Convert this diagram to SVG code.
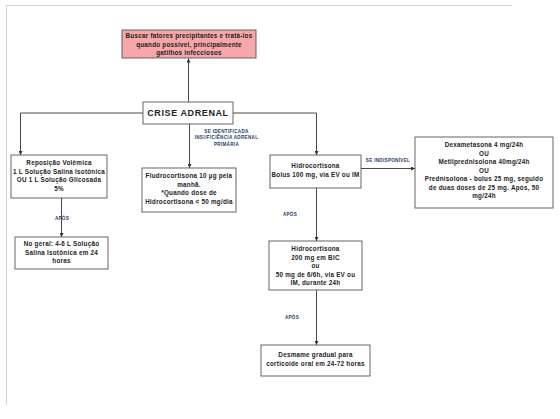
<svg xmlns="http://www.w3.org/2000/svg" width="560" height="419" viewBox="0 0 560 419">
<defs>
<marker id="ah" viewBox="0 0 6 6" refX="6" refY="3" markerWidth="4" markerHeight="4" orient="auto" markerUnits="userSpaceOnUse">
<path d="M0,0 L6,3 L0,6 z" fill="#333"/>
</marker>
<style>
.box{fill:#fff;stroke:#555;stroke-width:0.9}
.red{fill:#f7a7a7;stroke:#555;stroke-width:0.9}
.t{font-family:"Liberation Sans",Arial,sans-serif;font-weight:bold;font-size:6.3px;fill:#222;text-anchor:middle;letter-spacing:0.25px}
.big{font-size:9px;letter-spacing:0.6px}
.lb{font-family:"Liberation Sans",Arial,sans-serif;font-weight:bold;font-size:4.6px;fill:#1f3a6e;text-anchor:middle;letter-spacing:0.3px}
.c{fill:none;stroke:#333;stroke-width:0.9}
.frame{fill:none;stroke:#d4d4d4;stroke-width:1}
</style>
</defs>
<rect width="560" height="419" fill="#fff"/>
<path class="frame" d="M512,5.5 H6.5 V405"/>
<g id="connectors">
<path class="c" d="M188.5,102 V58.5" marker-end="url(#ah)"/>
<path class="c" d="M143,113 H20.5 V155" marker-end="url(#ah)"/>
<path class="c" d="M233,113 H316.5 V155" marker-end="url(#ah)"/>
<path class="c" d="M189.5,124 V168" marker-end="url(#ah)"/>
<path class="c" d="M61.5,198 V237" marker-end="url(#ah)"/>
<path class="c" d="M361,168.5 H415" marker-end="url(#ah)"/>
<path class="c" d="M316.5,188 V241" marker-end="url(#ah)"/>
<path class="c" d="M316.5,290 V345" marker-end="url(#ah)"/>
<text class="lb" x="226.5" y="132.5">SE IDENTIFICADA</text>
<text class="lb" x="226.5" y="139">INSUFICIÊNCIA ADRENAL</text>
<text class="lb" x="226.5" y="145.5">PRIMÁRIA</text>
<text class="lb" x="62" y="219.5">APÓS</text>
<text class="lb" x="388" y="162">SE INDISPONÍVEL</text>
<text class="lb" x="290" y="216">APÓS</text>
<text class="lb" x="292" y="319">APÓS</text>
</g>
<g id="n-buscar">
<rect class="red" x="122" y="30" width="134" height="28"/>
<text class="t" x="189" y="38">Buscar fatores precipitantes e tratá-los</text>
<text class="t" x="189" y="46.5">quando possível, principalmente</text>
<text class="t" x="189" y="55">gatilhos infecciosos</text>
</g>
<g id="n-crise">
<rect class="box" x="143" y="102" width="90" height="22"/>
<text class="t big" x="188" y="116">CRISE ADRENAL</text>
</g>
<g id="n-reposicao">
<rect class="box" x="11" y="155" width="96" height="43"/>
<text class="t" x="59" y="165">Reposição Volêmica</text>
<text class="t" x="59" y="173.5">1 L Solução Salina Isotônica</text>
<text class="t" x="59" y="182">OU 1 L Solução Glicosada</text>
<text class="t" x="59" y="190.5">5%</text>
</g>
<g id="n-fludro">
<rect class="box" x="142" y="168" width="94" height="44"/>
<text class="t" x="189" y="178">Fludrocortisona 10 µg pela</text>
<text class="t" x="189" y="186.5">manhã.</text>
<text class="t" x="189" y="195">*Quando dose de</text>
<text class="t" x="189" y="203.5">Hidrocortisona &lt; 50 mg/dia</text>
</g>
<g id="n-hidro1">
<rect class="box" x="270" y="155" width="91" height="33"/>
<text class="t" x="315.5" y="168">Hidrocortisona</text>
<text class="t" x="315.5" y="176.5">Bolus 100 mg, via EV ou IM</text>
</g>
<g id="n-dexa">
<rect class="box" x="415" y="137" width="138" height="71"/>
<text class="t" x="484" y="147">Dexametasona 4 mg/24h</text>
<text class="t" x="484" y="155.5">OU</text>
<text class="t" x="484" y="164">Metilprednisolona 40mg/24h</text>
<text class="t" x="484" y="172.5">OU</text>
<text class="t" x="484" y="181">Prednisolona - bolus 25 mg, seguido</text>
<text class="t" x="484" y="189.5">de duas doses de 25 mg. Após, 50</text>
<text class="t" x="484" y="198">mg/24h</text>
</g>
<g id="n-noger">
<rect class="box" x="15" y="237" width="93" height="32"/>
<text class="t" x="61.5" y="246">No geral: 4-6 L Solução</text>
<text class="t" x="61.5" y="254.5">Salina Isotônica em 24</text>
<text class="t" x="61.5" y="263">horas</text>
</g>
<g id="n-hidro2">
<rect class="box" x="269" y="241" width="93" height="49"/>
<text class="t" x="315.5" y="251">Hidrocortisona</text>
<text class="t" x="315.5" y="259.5">200 mg em BIC</text>
<text class="t" x="315.5" y="268">ou</text>
<text class="t" x="315.5" y="276.5">50 mg de 6/6h, via EV ou</text>
<text class="t" x="315.5" y="285">IM, durante 24h</text>
</g>
<g id="n-desmame">
<rect class="box" x="261" y="345" width="109" height="31"/>
<text class="t" x="315.5" y="357">Desmame gradual para</text>
<text class="t" x="315.5" y="365.5">corticoide oral em 24-72 horas</text>
</g>
</svg>
